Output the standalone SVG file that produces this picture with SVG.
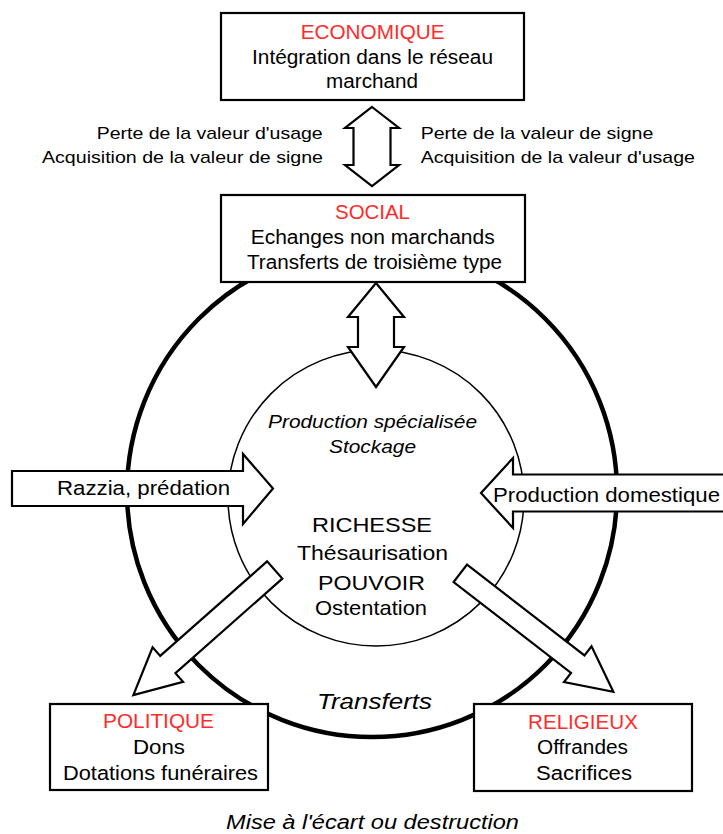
<svg xmlns="http://www.w3.org/2000/svg" width="723" height="834" viewBox="0 0 723 834">
<style>
  text { font-family: "Liberation Sans", Arial, sans-serif; fill: #000; }
  .box { fill: #fff; stroke: #000; stroke-width: 2.2; }
  .arr { fill: #fff; stroke: #000; stroke-width: 2.2; stroke-linejoin: miter; }
  .t19 { font-size: 19.5px; }
  .t16 { font-size: 17px; }
  .t20 { font-size: 20.5px; }
  .red { fill: #ff2b2b; }
  .it { font-style: italic; }
</style>
<rect width="723" height="834" fill="#fff"/>

<g id="cycle">
  <circle cx="372" cy="492" r="245" fill="none" stroke="#000" stroke-width="4.5"/>
  <circle cx="376" cy="498" r="148" fill="none" stroke="#000" stroke-width="1.5"/>
</g>

<g id="connectors">
  <polygon class="arr" points="372,107 399,128 390.5,128 390.5,165 399,165 372,186 345,165 353.5,165 353.5,128 345,128"/>
  <polygon class="arr" points="376,283 404,317 394,317 394,347 404,347 376,387 348,347 358,347 358,317 348,317"/>
  <g id="razzia">
    <polygon class="arr" points="12,471 243,471 243,454 273,488.5 243,524 243,506 12,506"/>
    <text class="t20" x="57" y="495" textLength="173" lengthAdjust="spacingAndGlyphs">Razzia, prédation</text>
  </g>
  <g id="production-domestique">
    <polygon class="arr" points="730,474.5 513,474.5 513,458 481,493 513,528 513,511.5 730,511.5"/>
    <text class="t20" x="493" y="502" textLength="227" lengthAdjust="spacingAndGlyphs">Production domestique</text>
  </g>
  <polygon class="arr" transform="translate(274.7 570) rotate(138.5)" points="0,-11.5 142.7,-11.5 142.7,-23 188.7,0 142.7,23 142.7,11.5 0,11.5"/>
  <polygon class="arr" transform="translate(460.3 573.3) rotate(37.73)" points="0,-11 148.5,-11 148.5,-22.5 193.5,0 148.5,22.5 148.5,11 0,11"/>
  <text class="t16" x="96.7" y="139" textLength="226" lengthAdjust="spacingAndGlyphs">Perte de la valeur d'usage</text>
  <text class="t16" x="42" y="163" textLength="281" lengthAdjust="spacingAndGlyphs">Acquisition de la valeur de signe</text>
  <text class="t16" x="420.7" y="139" textLength="232.6" lengthAdjust="spacingAndGlyphs">Perte de la valeur de signe</text>
  <text class="t16" x="420.7" y="163" textLength="274.3" lengthAdjust="spacingAndGlyphs">Acquisition de la valeur d'usage</text>
</g>

<g id="richesse">
  <text class="it" style="font-size:18.5px" x="268" y="428" textLength="209" lengthAdjust="spacingAndGlyphs">Production spécialisée</text>
  <text class="it" style="font-size:18.5px" x="329" y="453" textLength="87" lengthAdjust="spacingAndGlyphs">Stockage</text>
  <text style="font-size:21px" x="312" y="532" textLength="120" lengthAdjust="spacingAndGlyphs">RICHESSE</text>
  <text style="font-size:21px" x="297" y="560" textLength="151" lengthAdjust="spacingAndGlyphs">Thésaurisation</text>
  <text style="font-size:21px" x="318" y="590" textLength="107" lengthAdjust="spacingAndGlyphs">POUVOIR</text>
  <text style="font-size:21px" x="315" y="615" textLength="112" lengthAdjust="spacingAndGlyphs">Ostentation</text>
  <text class="it" style="font-size:22.5px" x="317" y="709" textLength="115" lengthAdjust="spacingAndGlyphs">Transferts</text>
</g>

<g id="economique">
  <rect class="box" x="221" y="13" width="303" height="87"/>
  <text class="t19 red" x="300.7" y="39" textLength="144" lengthAdjust="spacingAndGlyphs">ECONOMIQUE</text>
  <text class="t19" x="252" y="64" textLength="241" lengthAdjust="spacingAndGlyphs">Intégration dans le réseau</text>
  <text class="t19" x="326" y="88" textLength="92" lengthAdjust="spacingAndGlyphs">marchand</text>
</g>

<g id="social">
  <rect class="box" x="221" y="195" width="304" height="87"/>
  <text class="t19 red" x="335" y="219" textLength="75" lengthAdjust="spacingAndGlyphs">SOCIAL</text>
  <text class="t19" x="250.7" y="244" textLength="244" lengthAdjust="spacingAndGlyphs">Echanges non marchands</text>
  <text class="t19" x="247" y="269" textLength="255" lengthAdjust="spacingAndGlyphs">Transferts de troisième type</text>
</g>

<g id="politique">
  <rect class="box" x="50" y="704" width="218" height="86"/>
  <text class="t19 red" x="103" y="728" textLength="111" lengthAdjust="spacingAndGlyphs">POLITIQUE</text>
  <text class="t19" x="133" y="754" textLength="52" lengthAdjust="spacingAndGlyphs">Dons</text>
  <text class="t19" x="63" y="780" textLength="195" lengthAdjust="spacingAndGlyphs">Dotations funéraires</text>
</g>

<g id="religieux">
  <rect class="box" x="474" y="704" width="218" height="87"/>
  <text class="t19 red" x="528" y="729" textLength="110" lengthAdjust="spacingAndGlyphs">RELIGIEUX</text>
  <text class="t19" x="537" y="754" textLength="91" lengthAdjust="spacingAndGlyphs">Offrandes</text>
  <text class="t19" x="536" y="780" textLength="96" lengthAdjust="spacingAndGlyphs">Sacrifices</text>
</g>

<g id="destruction">
  <text class="it t20" x="226" y="829" textLength="293" lengthAdjust="spacingAndGlyphs">Mise à l'écart ou destruction</text>
</g>
</svg>
